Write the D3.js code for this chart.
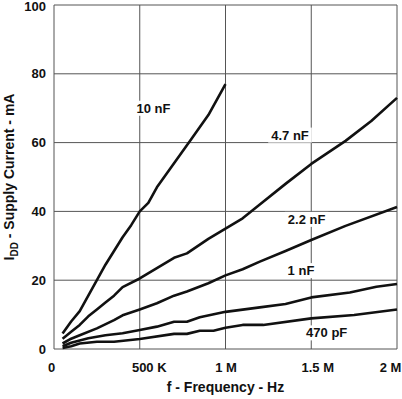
<!DOCTYPE html>
<html>
<head>
<meta charset="utf-8">
<script src="https://cdn.jsdelivr.net/npm/d3@7"></script>
<style>
  body { margin: 0; background: #fff; }
  text { font-family: "Liberation Sans", Arial, sans-serif; font-weight: bold; fill: #111; }
</style>
</head>
<body>
<div id="chart"></div>
<script>
// frequency in kHz, supply current in mA
var cap10n = [[50,4.5],[100,8],[150,11],[200,15.5],[250,20],[300,24.5],[350,28.5],[400,32.5],[450,36],[500,40],
  [550,42.5],[600,47],[700,54],[800,61],[900,68],[1000,77]];
var cap4n7 = [[50,3],[100,5],[150,7],[200,9.5],[250,11.5],[300,13.5],[350,15.5],[400,18],[500,20.5],[600,23.5],
  [700,26.5],[775,27.8],[900,32],[1000,35],[1100,38],[1200,42],[1350,48],[1500,53.8],[1700,60.5],[1850,66.3],[2000,73]];
var cap2n2 = [[50,1.6],[100,3],[150,4],[250,6],[350,8.4],[400,9.8],[500,11.5],[600,13.3],[700,15.5],[775,16.7],
  [900,19.1],[1000,21.4],[1100,23.2],[1200,25.4],[1350,28.5],[1500,31.7],[1700,35.8],[2000,41.3]];
var cap1n = [[50,0.8],[100,1.8],[150,2.5],[200,3.1],[300,4],[400,4.6],[500,5.5],[600,6.5],[700,7.9],[775,7.9],
  [850,9.2],[1000,10.8],[1200,12.1],[1350,13.1],[1500,15],[1725,16.4],[1880,18.1],[2000,18.9]];
var cap470p = [[50,0.3],[100,0.8],[150,1.6],[250,2.1],[350,2.1],[500,2.9],[700,4.4],[775,4.4],[850,5.3],[930,5.3],
  [1000,6.2],[1100,7],[1220,7],[1500,8.9],[1750,9.9],[2000,11.5]];

var seriesNames = ["10 nF", "4.7 nF", "2.2 nF", "1 nF", "470 pF"];
var seriesData = [cap10n, cap4n7, cap2n2, cap1n, cap470p];
// where each curve label sits, in chart units (kHz, mA)
var labelAt = [[580,70],[1376,62.2],[1473,37.7],[1440,22.8],[1590,4.7]];

var xTicks = [0, 500, 1000, 1500, 2000];
var xTickLabels = ["0", "500 K", "1 M", "1.5 M", "2 M"];
var yTicks = [0, 20, 40, 60, 80, 100];

var width = 402, height = 399;
var margin = {left: 54, right: 5, top: 5, bottom: 50};

var svg = d3.select("#chart").append("svg")
  .attr("width", width)
  .attr("height", height);

var x = d3.scaleLinear().domain([0, 2000]).range([margin.left, width - margin.right]);
var y = d3.scaleLinear().domain([0, 100]).range([height - margin.bottom, margin.top]);

// grid
svg.append("g")
  .attr("class", "grid")
  .selectAll("line.v")
  .data(xTicks)
  .enter().append("line")
  .attr("x1", d => x(d)).attr("x2", d => x(d))
  .attr("y1", y(0)).attr("y2", y(100))
  .attr("stroke", "#555").attr("stroke-width", 1);

svg.select(".grid")
  .selectAll("line.h")
  .data(yTicks)
  .enter().append("line")
  .attr("x1", x(0)).attr("x2", x(2000))
  .attr("y1", d => y(d)).attr("y2", d => y(d))
  .attr("stroke", "#555").attr("stroke-width", 1);

// axes (labels only)
var xAxis = svg.append("g")
  .attr("transform", "translate(0," + y(0) + ")")
  .call(d3.axisBottom(x).tickValues(xTicks).tickSize(0).tickPadding(14)
    .tickFormat((d, i) => xTickLabels[i]));
xAxis.select(".domain").remove();
var xShift = [-3, 9, 0, 6, -7];
xAxis.selectAll("text")
  .attr("dx", (d, i) => xShift[i])
  .style("font-size", "13px")
  .style("font-family", "Liberation Sans, Arial, sans-serif")
  .style("font-weight", "bold")
  .attr("fill", "#111");

var yAxis = svg.append("g")
  .attr("transform", "translate(" + x(0) + ",0)")
  .call(d3.axisLeft(y).tickValues(yTicks).tickSize(0).tickPadding(8));
yAxis.select(".domain").remove();
yAxis.selectAll("text")
  .attr("y", d => d === 100 ? 1.5 : 0)
  .style("font-size", "13px")
  .style("font-family", "Liberation Sans, Arial, sans-serif")
  .style("font-weight", "bold")
  .attr("fill", "#111");

// curves
var line = d3.line()
  .x(d => x(d[0]))
  .y(d => y(d[1]));

svg.selectAll("path.curve")
  .data(seriesData)
  .enter().append("path")
  .attr("class", "curve")
  .attr("d", line)
  .attr("fill", "none")
  .attr("stroke", "#111")
  .attr("stroke-width", 2.6)
  .attr("stroke-linejoin", "round");

// curve labels with white backing
var labels = svg.selectAll("g.lbl")
  .data(seriesNames)
  .enter().append("g")
  .attr("class", "lbl")
  .attr("transform", (d, i) => "translate(" + x(labelAt[i][0]) + "," + y(labelAt[i][1]) + ")");

labels.append("text")
  .attr("text-anchor", "middle")
  .attr("dy", "0.35em")
  .style("font-size", "13px")
  .text(d => d);

labels.each(function() {
  var g = d3.select(this);
  var bb = g.select("text").node().getBBox();
  g.insert("rect", "text")
    .attr("x", bb.x - 3).attr("y", bb.y)
    .attr("width", bb.width + 6).attr("height", bb.height)
    .attr("fill", "#fff");
});

// axis titles
svg.append("text")
  .attr("x", x(1000))
  .attr("y", 392)
  .attr("text-anchor", "middle")
  .style("font-size", "14px")
  .text("f - Frequency - Hz");

var yTitle = svg.append("text")
  .attr("transform", "translate(14," + ((y(0) + y(100)) / 2) + ") rotate(-90)")
  .attr("text-anchor", "middle")
  .style("font-size", "14px");
yTitle.append("tspan").text("I");
yTitle.append("tspan").attr("dy", 4).style("font-size", "10px").text("DD");
yTitle.append("tspan").attr("dy", -4).text(" - Supply Current - mA");
</script>
</body>
</html>
